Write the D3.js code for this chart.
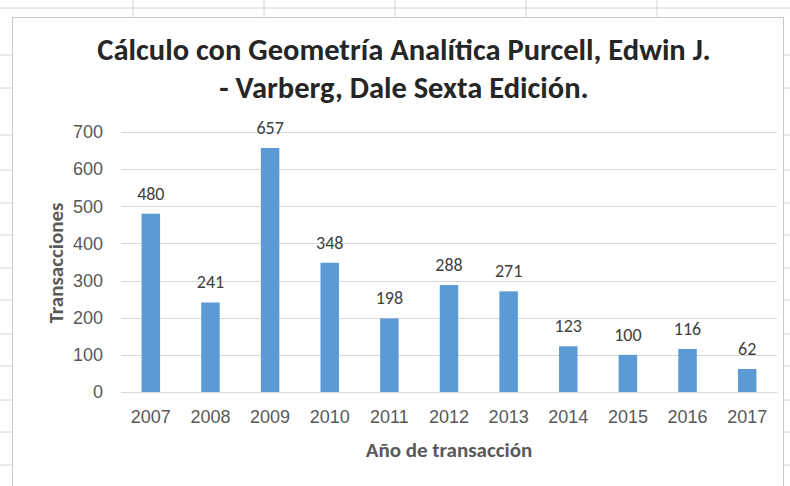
<!DOCTYPE html>
<html>
<head>
<meta charset="utf-8">
<script src="https://cdn.jsdelivr.net/npm/d3@7"></script>
<style>
  body { margin: 0; background: #fff; }
  svg { display: block; font-family: Carlito, "Open Sans", "Noto Sans", sans-serif; }
</style>
</head>
<body>
<svg id="chart" width="790" height="486"></svg>
<script>
// data
var years = ["2007","2008","2009","2010","2011","2012","2013","2014","2015","2016","2017"];
var transacciones = [480, 241, 657, 348, 198, 288, 271, 123, 100, 116, 62];
var yTicks = [0, 100, 200, 300, 400, 500, 600, 700];
var titleLines = ["Cálculo con Geometría Analítica Purcell, Edwin J.", "- Varberg, Dale Sexta Edición."];
var xTitle = "Año de transacción";
var yTitle = "Transacciones";

var svg = d3.select("#chart");

// spreadsheet behind the chart object (column / row lines peeking out)
var sheet = svg.append("g").attr("stroke", "#d4d4d4").attr("fill", "none");
sheet.append("line").attr("x1", 0).attr("x2", 790).attr("y1", 8).attr("y2", 8);
[133, 264, 395, 526, 657].forEach(function(x){
  sheet.append("line").attr("x1", x).attr("x2", x).attr("y1", 0).attr("y2", 17);
});
[55, 88, 135, 170, 203, 235, 268, 300, 334, 366, 400, 432, 465].forEach(function(y){
  sheet.append("line").attr("x1", 0).attr("x2", 12).attr("y1", y).attr("y2", y);
  sheet.append("line").attr("x1", 784).attr("x2", 790).attr("y1", y).attr("y2", y);
});
// chart border
svg.append("rect").attr("x", 12.5).attr("y", 17.5).attr("width", 771).attr("height", 480)
  .attr("fill", "#fff").attr("stroke", "#c8c8c8");

var x = d3.scaleBand().domain(years).range([121, 777]).paddingInner(0.69).paddingOuter(0.345);
var y = d3.scaleLinear().domain([0, 700]).range([392, 132]);

// gridlines
svg.append("g").selectAll("line").data(yTicks).enter().append("line")
  .attr("x1", 121).attr("x2", 777)
  .attr("y1", function(d){ return Math.round(y(d)) + 0.5; })
  .attr("y2", function(d){ return Math.round(y(d)) + 0.5; })
  .attr("stroke", "#d9d9d9");

// y axis
var yAxis = svg.append("g").attr("transform", "translate(121,0)")
  .call(d3.axisLeft(y).tickValues(yTicks).tickSize(0).tickPadding(18));
yAxis.select(".domain").remove();
yAxis.selectAll("text").attr("font-size", 18).attr("fill", "#595959").attr("font-family", null);

// x axis
var xAxis = svg.append("g").attr("transform", "translate(0,392)")
  .call(d3.axisBottom(x).tickSize(0).tickPadding(18));
xAxis.select(".domain").attr("stroke", "#d9d9d9");
xAxis.selectAll("text").attr("font-size", 18).attr("fill", "#595959").attr("font-family", null);

// bars
svg.append("g").selectAll("rect").data(transacciones).enter().append("rect")
  .attr("x", function(d, i){ return x(years[i]); })
  .attr("y", function(d){ return y(d); })
  .attr("width", x.bandwidth())
  .attr("height", function(d){ return y(0) - y(d); })
  .attr("fill", "#5b9bd5");

// value labels
svg.append("g").selectAll("text").data(transacciones).enter().append("text")
  .attr("x", function(d, i){ return x(years[i]) + x.bandwidth() / 2; })
  .attr("y", function(d){ return y(d) - 14; })
  .attr("text-anchor", "middle")
  .attr("font-size", 18)
  .attr("fill", "#404040")
  .text(function(d){ return d; });

// title
svg.append("g").selectAll("text").data(titleLines).enter().append("text")
  .attr("x", 404)
  .attr("y", function(d, i){ return 60 + i * 38; })
  .attr("text-anchor", "middle")
  .attr("font-size", 30.5)
  .attr("font-weight", "bold")
  .attr("fill", "#262626")
  .text(function(d){ return d; });

// axis titles
svg.append("text").attr("x", 449).attr("y", 457).attr("text-anchor", "middle")
  .attr("font-size", 21).attr("font-weight", "bold").attr("fill", "#595959").text(xTitle);
svg.append("text").attr("transform", "translate(63,263) rotate(-90)").attr("text-anchor", "middle")
  .attr("font-size", 21).attr("font-weight", "bold").attr("fill", "#595959").text(yTitle);
</script>
</body>
</html>
